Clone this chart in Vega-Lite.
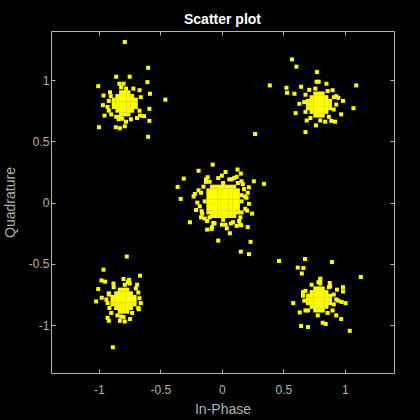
{
  "$schema": "https://vega.github.io/schema/vega-lite/v6.json",
  "width": 343,
  "height": 342,
  "autosize": {"type": "none"},
  "padding": {"left": 51, "top": 31, "right": 26, "bottom": 47},
  "background": "black",
  "title": {"text": "Scatter plot", "color": "white", "fontSize": 14, "fontWeight": "bold", "font": "Liberation Sans", "offset": 4, "anchor": "middle"},
  "config": {
    "view": {"stroke": "#b3b3b3", "strokeWidth": 1},
    "axis": {"domain": false, "grid": false, "tickColor": "#b3b3b3", "tickSize": -4, "labelColor": "#b3b3b3", "labelFont": "Liberation Sans", "labelFontSize": 12, "titleColor": "#b3b3b3", "titleFont": "Liberation Sans", "titleFontSize": 14, "titleFontWeight": "normal"}
  },
  "data": {"values": [
    {"x":0.01,"y":-0.14},{"x":0.01,"y":-0.11},{"x":0.01,"y":-0.08},{"x":0.01,"y":-0.05},{"x":0.01,"y":-0.02},{"x":0.01,"y":0.01},{"x":0.01,"y":0.04},{"x":0.01,"y":0.07},{"x":0.01,"y":0.10},{"x":0.01,"y":0.13},{"x":0.01,"y":0.16},
    {"x":-0.02,"y":-0.11},{"x":-0.02,"y":-0.08},{"x":-0.02,"y":-0.05},{"x":-0.02,"y":-0.02},{"x":-0.02,"y":0.01},{"x":-0.02,"y":0.04},{"x":-0.02,"y":0.07},{"x":-0.02,"y":0.10},{"x":-0.02,"y":0.13},
    {"x":0.04,"y":-0.11},{"x":0.04,"y":-0.08},{"x":0.04,"y":-0.05},{"x":0.04,"y":-0.02},{"x":0.04,"y":0.01},{"x":0.04,"y":0.04},{"x":0.04,"y":0.07},{"x":0.04,"y":0.10},{"x":0.04,"y":0.13},
    {"x":-0.05,"y":-0.11},{"x":-0.05,"y":-0.08},{"x":-0.05,"y":-0.05},{"x":-0.05,"y":-0.02},{"x":-0.05,"y":0.01},{"x":-0.05,"y":0.04},{"x":-0.05,"y":0.07},{"x":-0.05,"y":0.10},{"x":-0.05,"y":0.13},
    {"x":0.07,"y":-0.11},{"x":0.07,"y":-0.08},{"x":0.07,"y":-0.05},{"x":0.07,"y":-0.02},{"x":0.07,"y":0.01},{"x":0.07,"y":0.04},{"x":0.07,"y":0.07},{"x":0.07,"y":0.10},{"x":0.07,"y":0.13},
    {"x":-0.08,"y":-0.11},{"x":-0.08,"y":-0.08},{"x":-0.08,"y":-0.05},{"x":-0.08,"y":-0.02},{"x":-0.08,"y":0.01},{"x":-0.08,"y":0.04},{"x":-0.08,"y":0.07},{"x":-0.08,"y":0.10},{"x":-0.08,"y":0.13},
    {"x":0.10,"y":-0.11},{"x":0.10,"y":-0.08},{"x":0.10,"y":-0.05},{"x":0.10,"y":-0.02},{"x":0.10,"y":0.01},{"x":0.10,"y":0.04},{"x":0.10,"y":0.07},{"x":0.10,"y":0.10},{"x":0.10,"y":0.13},
    {"x":-0.11,"y":-0.08},{"x":-0.11,"y":-0.05},{"x":-0.11,"y":-0.02},{"x":-0.11,"y":0.01},{"x":-0.11,"y":0.04},{"x":-0.11,"y":0.07},{"x":-0.11,"y":0.10},
    {"x":0.13,"y":-0.08},{"x":0.13,"y":-0.05},{"x":0.13,"y":-0.02},{"x":0.13,"y":0.01},{"x":0.13,"y":0.04},{"x":0.13,"y":0.07},{"x":0.13,"y":0.10},
    {"x":-0.14,"y":0.01},{"x":0.16,"y":0.01},
    {"x":-0.17,"y":0.08},{"x":-0.18,"y":-0.03},{"x":-0.16,"y":-0.09},{"x":-0.12,"y":-0.15},{"x":-0.06,"y":-0.17},{"x":0.03,"y":-0.18},{"x":0.09,"y":-0.16},{"x":0.15,"y":-0.12},{"x":0.19,"y":-0.05},{"x":0.2,"y":0.04},{"x":0.18,"y":0.11},{"x":0.13,"y":0.16},{"x":0.06,"y":0.19},{"x":-0.03,"y":0.2},{"x":-0.1,"y":0.17},{"x":-0.15,"y":0.13},{"x":-0.2,"y":0.0},{"x":-0.21,"y":-0.06},{"x":0.22,"y":-0.01},{"x":0.17,"y":0.15},{"x":-0.13,"y":0.19},{"x":0.1,"y":0.2},{"x":-0.19,"y":0.1},{"x":-0.14,"y":-0.13},{"x":0.04,"y":-0.21},{"x":0.12,"y":-0.19},{"x":-0.08,"y":-0.2},{"x":0.21,"y":0.08},{"x":-0.23,"y":0.05},{"x":0.0,"y":0.22},{"x":0.16,"y":-0.08},{"x":-0.17,"y":-0.12},{"x":0.14,"y":-0.15},{"x":-0.1,"y":-0.12},{"x":0.16,"y":0.06},
    {"x":-0.075,"y":0.31},{"x":-0.19,"y":0.26},{"x":-0.31,"y":0.196},{"x":-0.36,"y":0.128},{"x":-0.335,"y":0.03},{"x":-0.22,"y":0.07},{"x":0.03,"y":0.25},{"x":0.127,"y":0.27},{"x":0.154,"y":0.237},{"x":0.12,"y":0.21},{"x":0.079,"y":0.19},{"x":0.16,"y":0.174},{"x":-0.116,"y":0.207},{"x":-0.13,"y":0.169},{"x":0.26,"y":0.174},{"x":0.343,"y":0.153},{"x":0.219,"y":0.125},{"x":0.187,"y":0.05},{"x":0.205,"y":-0.065},{"x":0.246,"y":-0.09},{"x":-0.26,"y":-0.16},{"x":-0.165,"y":-0.07},{"x":-0.12,"y":-0.22},{"x":-0.084,"y":-0.215},{"x":0.0,"y":-0.18},{"x":0.065,"y":-0.25},{"x":0.146,"y":-0.18},{"x":0.21,"y":-0.2},{"x":-0.03,"y":-0.31},{"x":0.233,"y":-0.32},{"x":0.154,"y":-0.40},{"x":0.22,"y":-0.42},{"x":0.073,"y":-0.17},{"x":-0.07,"y":-0.166},{"x":0.157,"y":-0.185},{"x":0.27,"y":0.56},
    {"x":-0.79,"y":0.72},{"x":-0.79,"y":0.75},{"x":-0.79,"y":0.78},{"x":-0.79,"y":0.81},{"x":-0.79,"y":0.84},{"x":-0.79,"y":0.87},{"x":-0.79,"y":0.90},
    {"x":-0.82,"y":0.72},{"x":-0.82,"y":0.75},{"x":-0.82,"y":0.78},{"x":-0.82,"y":0.81},{"x":-0.82,"y":0.84},{"x":-0.82,"y":0.87},{"x":-0.82,"y":0.90},
    {"x":-0.76,"y":0.72},{"x":-0.76,"y":0.75},{"x":-0.76,"y":0.78},{"x":-0.76,"y":0.81},{"x":-0.76,"y":0.84},{"x":-0.76,"y":0.87},{"x":-0.76,"y":0.90},
    {"x":-0.85,"y":0.75},{"x":-0.85,"y":0.78},{"x":-0.85,"y":0.81},{"x":-0.85,"y":0.84},{"x":-0.85,"y":0.87},
    {"x":-0.73,"y":0.75},{"x":-0.73,"y":0.78},{"x":-0.73,"y":0.81},{"x":-0.73,"y":0.84},{"x":-0.73,"y":0.87},
    {"x":-0.88,"y":0.78},{"x":-0.88,"y":0.81},{"x":-0.88,"y":0.84},{"x":-0.70,"y":0.78},{"x":-0.70,"y":0.81},{"x":-0.70,"y":0.84},
    {"x":-0.92,"y":0.83},{"x":-0.9,"y":0.72},{"x":-0.84,"y":0.68},{"x":-0.74,"y":0.68},{"x":-0.67,"y":0.75},{"x":-0.66,"y":0.86},{"x":-0.72,"y":0.93},{"x":-0.82,"y":0.94},{"x":-0.91,"y":0.9},{"x":-0.93,"y":0.78},{"x":-0.69,"y":0.69},{"x":-0.86,"y":0.7},{"x":-0.78,"y":0.66},{"x":-0.8,"y":0.97},
    {"x":-0.79,"y":1.31},{"x":-0.6,"y":1.10},{"x":-0.86,"y":1.027},{"x":-0.75,"y":1.027},{"x":-1.006,"y":0.95},{"x":-0.606,"y":0.983},{"x":-0.834,"y":0.97},{"x":-0.78,"y":0.93},{"x":-0.67,"y":0.917},{"x":-0.585,"y":0.888},{"x":-0.963,"y":0.874},{"x":-0.904,"y":0.868},{"x":-0.46,"y":0.84},{"x":-0.968,"y":0.795},{"x":-0.59,"y":0.765},{"x":-0.92,"y":0.75},{"x":-0.955,"y":0.71},{"x":-0.666,"y":0.71},{"x":-0.633,"y":0.705},{"x":-0.83,"y":0.70},{"x":-0.81,"y":0.684},{"x":-0.59,"y":0.667},{"x":-1.0,"y":0.615},{"x":-0.863,"y":0.615},{"x":-0.83,"y":0.607},{"x":-0.79,"y":0.623},{"x":-0.6,"y":0.537},
    {"x":0.79,"y":0.71},{"x":0.79,"y":0.74},{"x":0.79,"y":0.77},{"x":0.79,"y":0.80},{"x":0.79,"y":0.83},{"x":0.79,"y":0.86},{"x":0.79,"y":0.89},
    {"x":0.76,"y":0.71},{"x":0.76,"y":0.74},{"x":0.76,"y":0.77},{"x":0.76,"y":0.80},{"x":0.76,"y":0.83},{"x":0.76,"y":0.86},{"x":0.76,"y":0.89},
    {"x":0.82,"y":0.71},{"x":0.82,"y":0.74},{"x":0.82,"y":0.77},{"x":0.82,"y":0.80},{"x":0.82,"y":0.83},{"x":0.82,"y":0.86},{"x":0.82,"y":0.89},
    {"x":0.73,"y":0.74},{"x":0.73,"y":0.77},{"x":0.73,"y":0.80},{"x":0.73,"y":0.83},{"x":0.73,"y":0.86},
    {"x":0.85,"y":0.74},{"x":0.85,"y":0.77},{"x":0.85,"y":0.80},{"x":0.85,"y":0.83},{"x":0.85,"y":0.86},
    {"x":0.70,"y":0.77},{"x":0.70,"y":0.80},{"x":0.70,"y":0.83},{"x":0.88,"y":0.77},{"x":0.88,"y":0.80},{"x":0.88,"y":0.83},
    {"x":0.67,"y":0.82},{"x":0.68,"y":0.74},{"x":0.72,"y":0.69},{"x":0.8,"y":0.67},{"x":0.87,"y":0.7},{"x":0.91,"y":0.76},{"x":0.91,"y":0.86},{"x":0.86,"y":0.91},{"x":0.76,"y":0.93},{"x":0.68,"y":0.88},{"x":0.93,"y":0.8},{"x":0.84,"y":0.66},{"x":0.71,"y":0.92},
    {"x":0.57,"y":1.168},{"x":0.606,"y":1.109},{"x":0.773,"y":1.065},{"x":0.39,"y":0.956},{"x":1.093,"y":0.956},{"x":0.525,"y":0.937},{"x":0.53,"y":0.896},{"x":0.59,"y":0.888},{"x":0.77,"y":0.986},{"x":0.787,"y":0.986},{"x":0.85,"y":0.97},{"x":0.644,"y":0.945},{"x":0.9,"y":0.917},{"x":0.93,"y":0.868},{"x":0.947,"y":0.855},{"x":0.985,"y":0.83},{"x":1.07,"y":0.77},{"x":0.97,"y":0.72},{"x":0.92,"y":0.66},{"x":0.89,"y":0.667},{"x":0.69,"y":0.67},{"x":0.6,"y":0.73},{"x":0.63,"y":0.806},{"x":0.68,"y":0.575},{"x":0.765,"y":0.63},
    {"x":-0.80,"y":-0.89},{"x":-0.80,"y":-0.86},{"x":-0.80,"y":-0.83},{"x":-0.80,"y":-0.80},{"x":-0.80,"y":-0.77},{"x":-0.80,"y":-0.74},{"x":-0.80,"y":-0.71},
    {"x":-0.83,"y":-0.89},{"x":-0.83,"y":-0.86},{"x":-0.83,"y":-0.83},{"x":-0.83,"y":-0.80},{"x":-0.83,"y":-0.77},{"x":-0.83,"y":-0.74},{"x":-0.83,"y":-0.71},
    {"x":-0.77,"y":-0.89},{"x":-0.77,"y":-0.86},{"x":-0.77,"y":-0.83},{"x":-0.77,"y":-0.80},{"x":-0.77,"y":-0.77},{"x":-0.77,"y":-0.74},{"x":-0.77,"y":-0.71},
    {"x":-0.86,"y":-0.86},{"x":-0.86,"y":-0.83},{"x":-0.86,"y":-0.80},{"x":-0.86,"y":-0.77},{"x":-0.86,"y":-0.74},
    {"x":-0.74,"y":-0.86},{"x":-0.74,"y":-0.83},{"x":-0.74,"y":-0.80},{"x":-0.74,"y":-0.77},{"x":-0.74,"y":-0.74},
    {"x":-0.89,"y":-0.83},{"x":-0.89,"y":-0.80},{"x":-0.89,"y":-0.77},{"x":-0.71,"y":-0.83},{"x":-0.71,"y":-0.80},{"x":-0.71,"y":-0.77},
    {"x":-0.93,"y":-0.82},{"x":-0.92,"y":-0.75},{"x":-0.88,"y":-0.69},{"x":-0.79,"y":-0.67},{"x":-0.7,"y":-0.7},{"x":-0.67,"y":-0.78},{"x":-0.68,"y":-0.86},{"x":-0.73,"y":-0.9},{"x":-0.82,"y":-0.93},{"x":-0.9,"y":-0.9},{"x":-0.94,"y":-0.79},{"x":-0.66,"y":-0.82},{"x":-0.75,"y":-0.66},
    {"x":-0.774,"y":-0.44},{"x":-0.963,"y":-0.547},{"x":-0.666,"y":-0.596},{"x":-0.98,"y":-0.635},{"x":-0.95,"y":-0.645},{"x":-1.006,"y":-0.705},{"x":-1.023,"y":-0.806},{"x":-0.977,"y":-0.776},{"x":-0.882,"y":-0.66},{"x":-0.8,"y":-0.623},{"x":-0.755,"y":-0.63},{"x":-0.765,"y":-0.65},{"x":-0.69,"y":-0.67},{"x":-0.68,"y":-0.733},{"x":-0.92,"y":-0.74},{"x":-0.676,"y":-0.87},{"x":-0.915,"y":-0.86},{"x":-0.93,"y":-0.94},{"x":-0.92,"y":-0.964},{"x":-0.85,"y":-0.92},{"x":-0.8,"y":-0.934},{"x":-0.83,"y":-0.964},{"x":-0.79,"y":-0.97},{"x":-0.747,"y":-0.95},{"x":-0.887,"y":-1.18},
    {"x":0.79,"y":-0.88},{"x":0.79,"y":-0.85},{"x":0.79,"y":-0.82},{"x":0.79,"y":-0.79},{"x":0.79,"y":-0.76},{"x":0.79,"y":-0.73},{"x":0.79,"y":-0.70},
    {"x":0.76,"y":-0.88},{"x":0.76,"y":-0.85},{"x":0.76,"y":-0.82},{"x":0.76,"y":-0.79},{"x":0.76,"y":-0.76},{"x":0.76,"y":-0.73},{"x":0.76,"y":-0.70},
    {"x":0.82,"y":-0.88},{"x":0.82,"y":-0.85},{"x":0.82,"y":-0.82},{"x":0.82,"y":-0.79},{"x":0.82,"y":-0.76},{"x":0.82,"y":-0.73},{"x":0.82,"y":-0.70},
    {"x":0.73,"y":-0.85},{"x":0.73,"y":-0.82},{"x":0.73,"y":-0.79},{"x":0.73,"y":-0.76},{"x":0.73,"y":-0.73},
    {"x":0.85,"y":-0.85},{"x":0.85,"y":-0.82},{"x":0.85,"y":-0.79},{"x":0.85,"y":-0.76},{"x":0.85,"y":-0.73},
    {"x":0.70,"y":-0.82},{"x":0.70,"y":-0.79},{"x":0.70,"y":-0.76},{"x":0.88,"y":-0.82},{"x":0.88,"y":-0.79},{"x":0.88,"y":-0.76},
    {"x":0.67,"y":-0.8},{"x":0.68,"y":-0.72},{"x":0.73,"y":-0.67},{"x":0.8,"y":-0.66},{"x":0.87,"y":-0.69},{"x":0.91,"y":-0.75},{"x":0.91,"y":-0.83},{"x":0.86,"y":-0.9},{"x":0.78,"y":-0.92},{"x":0.7,"y":-0.88},{"x":0.93,"y":-0.79},{"x":0.66,"y":-0.76},
    {"x":0.465,"y":-0.476},{"x":0.676,"y":-0.46},{"x":0.617,"y":-0.53},{"x":0.663,"y":-0.534},{"x":0.65,"y":-0.578},{"x":0.895,"y":-0.485},{"x":1.13,"y":-0.607},{"x":0.8,"y":-0.62},{"x":0.8,"y":-0.635},{"x":0.785,"y":-0.65},{"x":0.877,"y":-0.656},{"x":0.88,"y":-0.684},{"x":0.985,"y":-0.69},{"x":0.985,"y":-0.725},{"x":0.936,"y":-0.71},{"x":0.66,"y":-0.73},{"x":0.947,"y":-0.8},{"x":0.974,"y":-0.81},{"x":1.006,"y":-0.82},{"x":0.58,"y":-0.82},{"x":0.633,"y":-0.896},{"x":0.68,"y":-0.88},{"x":0.93,"y":-0.92},{"x":0.97,"y":-0.95},{"x":0.644,"y":-1.007},{"x":0.70,"y":-1.015},{"x":0.82,"y":-0.98},{"x":0.845,"y":-0.99},{"x":1.04,"y":-1.046},{"x":0.9,"y":-0.88}
  ]},
  "layer": [
    {
      "mark": {"type": "square", "size": 16, "color": "#ffff00", "opacity": 1},
      "encoding": {
        "x": {"field": "x", "type": "quantitative", "scale": {"domain": [-1.39, 1.4], "nice": false, "zero": false}, "axis": {"orient": "bottom", "values": [-1, -0.5, 0, 0.5, 1], "labelExpr": "toString(datum.value)", "title": "In-Phase", "labelPadding": 15, "titlePadding": 7}},
        "y": {"field": "y", "type": "quantitative", "scale": {"domain": [-1.39, 1.4], "nice": false, "zero": false}, "axis": {"orient": "left", "values": [-1, -0.5, 0, 0.5, 1], "labelExpr": "toString(datum.value)", "title": "Quadrature", "labelPadding": 6, "titlePadding": 11}}
      }
    },
    {
      "mark": {"type": "square", "size": 16, "opacity": 0},
      "encoding": {
        "x": {"field": "x", "type": "quantitative", "scale": {"domain": [-1.39, 1.4], "nice": false, "zero": false}, "axis": {"orient": "top", "values": [-1, -0.5, 0, 0.5, 1], "labels": false, "title": null}},
        "y": {"field": "y", "type": "quantitative", "scale": {"domain": [-1.39, 1.4], "nice": false, "zero": false}, "axis": {"orient": "right", "values": [-1, -0.5, 0, 0.5, 1], "labels": false, "title": null}}
      }
    }
  ],
  "resolve": {"axis": {"x": "independent", "y": "independent"}}
}
